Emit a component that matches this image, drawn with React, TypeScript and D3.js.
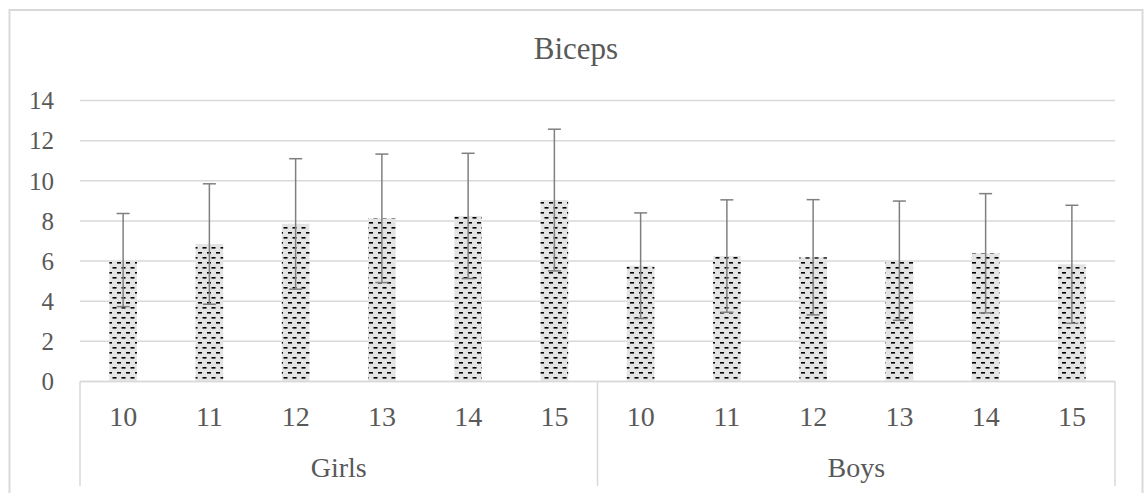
import * as d3 from 'd3';
import React, { useEffect } from 'react';

// groups and ages along the category axis
const groups = ['Girls', 'Boys'];
const ages = ['10', '11', '12', '13', '14', '15'];

// mean values per age
const girlsMean = [6.05, 6.85, 7.85, 8.13, 8.25, 9.04];
const boysMean = [5.77, 6.25, 6.19, 6.02, 6.39, 5.84];

// error bar half-lengths (standard deviation)
const girlsSd = [2.32, 3.0, 3.25, 3.2, 3.12, 3.53];
const boysSd = [2.63, 2.8, 2.87, 2.97, 2.97, 2.94];

const yTicks = [0, 2, 4, 6, 8, 10, 12, 14];

export default function App() {
  const ref = React.useRef<HTMLDivElement>(null);

  useEffect(() => {
    if (!ref.current) return;
    document.body.style.margin = '0';
    ref.current.innerHTML = '';

    const width = 1146;
    const height = 493;
    const plot = { left: 80, right: 1115, top: 100.5, bottom: 381.5 };
    const font = "'Times New Roman', 'Liberation Serif', 'DejaVu Serif', serif";
    const textColor = '#595959';
    const lineColor = '#d9d9d9';

    const rows = groups.flatMap((g, gi) =>
      ages.map((a, i) => ({
        key: `${g}-${a}`,
        group: g,
        age: a,
        mean: gi === 0 ? girlsMean[i] : boysMean[i],
        sd: gi === 0 ? girlsSd[i] : boysSd[i],
      }))
    );

    const x = d3
      .scaleBand<string>()
      .domain(rows.map(r => r.key))
      .range([plot.left, plot.right])
      .paddingInner(0.68)
      .paddingOuter(0.34);

    const y = d3.scaleLinear().domain([0, 14]).range([plot.bottom, plot.top]);

    const svg = d3
      .select(ref.current)
      .append('svg')
      .attr('width', width)
      .attr('height', height)
      .style('display', 'block');

    // dashed fill pattern of the bars
    const defs = svg.append('defs');
    const pat = defs
      .append('pattern')
      .attr('id', 'dashes')
      .attr('patternUnits', 'userSpaceOnUse')
      .attr('width', 9)
      .attr('height', 10);
    pat.append('rect').attr('width', 9).attr('height', 10).attr('fill', '#e4e4e4');
    pat.append('rect').attr('x', 0).attr('y', 2).attr('width', 4).attr('height', 1.6).attr('fill', '#000');
    pat.append('rect').attr('x', 4.5).attr('y', 7).attr('width', 4).attr('height', 1.6).attr('fill', '#000');

    svg.append('rect').attr('width', width).attr('height', height).attr('fill', '#fff');

    // chart border
    svg
      .append('rect')
      .attr('x', 9.5)
      .attr('y', 10)
      .attr('width', 1133)
      .attr('height', 500)
      .attr('fill', 'none')
      .attr('stroke', lineColor)
      .attr('stroke-width', 2);

    const texts = svg.append('g').style('font-family', font).attr('fill', textColor);

    // title
    texts
      .append('text')
      .attr('x', 576)
      .attr('y', 59)
      .attr('text-anchor', 'middle')
      .attr('font-size', 31)
      .text('Biceps');

    // gridlines
    svg
      .append('g')
      .selectAll('line')
      .data(yTicks)
      .enter()
      .append('line')
      .attr('x1', plot.left)
      .attr('x2', plot.right)
      .attr('y1', d => y(d))
      .attr('y2', d => y(d))
      .attr('stroke', lineColor)
      .attr('stroke-width', 1.5);

    // y tick labels
    texts
      .append('g')
      .selectAll('text')
      .data(yTicks)
      .enter()
      .append('text')
      .attr('x', 54)
      .attr('y', d => y(d))
      .attr('dy', '0.35em')
      .attr('text-anchor', 'end')
      .attr('font-size', 25)
      .text(d => d);

    // bars
    svg
      .append('g')
      .selectAll('rect')
      .data(rows)
      .enter()
      .append('rect')
      .attr('x', d => x(d.key)!)
      .attr('y', d => y(d.mean))
      .attr('width', x.bandwidth())
      .attr('height', d => y(0) - y(d.mean))
      .attr('fill', 'url(#dashes)');

    // error bars
    const err = svg.append('g').attr('stroke', '#7f7f7f').attr('stroke-width', 1.5);
    const cx = (k: string) => x(k)! + x.bandwidth() / 2;
    rows.forEach(r => {
      const hi = y(r.mean + r.sd);
      const lo = y(r.mean - r.sd);
      err.append('line').attr('x1', cx(r.key)).attr('x2', cx(r.key)).attr('y1', hi).attr('y2', lo);
      [hi, lo].forEach(v =>
        err
          .append('line')
          .attr('x1', cx(r.key) - 6.5)
          .attr('x2', cx(r.key) + 6.5)
          .attr('y1', v)
          .attr('y2', v)
      );
    });

    // category axis box
    const axisBottom = 486;
    const groupEdges = [plot.left, x(rows[6].key)! - (x.step() - x.bandwidth()) / 2, plot.right];
    svg
      .append('line')
      .attr('x1', plot.left)
      .attr('x2', plot.right)
      .attr('y1', y(0))
      .attr('y2', y(0))
      .attr('stroke', lineColor)
      .attr('stroke-width', 1.5);
    svg
      .append('g')
      .selectAll('line')
      .data(groupEdges)
      .enter()
      .append('line')
      .attr('x1', d => d)
      .attr('x2', d => d)
      .attr('y1', y(0))
      .attr('y2', axisBottom)
      .attr('stroke', lineColor)
      .attr('stroke-width', 1.5);

    texts
      .append('g')
      .selectAll('text')
      .data(rows)
      .enter()
      .append('text')
      .attr('x', d => cx(d.key))
      .attr('y', 426)
      .attr('text-anchor', 'middle')
      .attr('font-size', 28)
      .text(d => d.age);

    texts
      .append('g')
      .selectAll('text')
      .data(groups)
      .enter()
      .append('text')
      .attr('x', (d, i) => (groupEdges[i] + groupEdges[i + 1]) / 2)
      .attr('y', 477)
      .attr('text-anchor', 'middle')
      .attr('font-size', 28)
      .text(d => d);
  }, []);

  return <div ref={ref}></div>;
}
